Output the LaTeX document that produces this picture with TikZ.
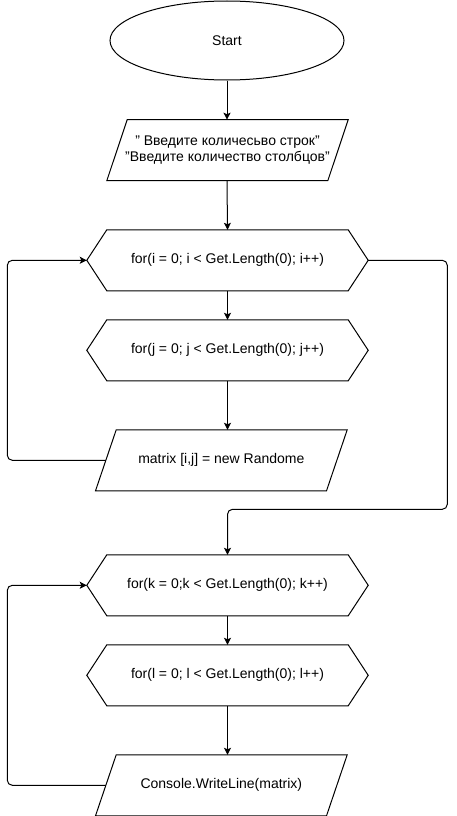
\documentclass[tikz,border=0pt]{standalone}
\usepackage{fontspec}
\setmainfont{Liberation Sans}
\usetikzlibrary{shapes.geometric,arrows.meta,calc}
\newcommand\drawhexbox[1]{\draw ($(#1.north west)+(20,0)$) -- ($(#1.north east)+(-20,0)$) -- (#1.east) -- ($(#1.south east)+(-20,0)$) -- ($(#1.south west)+(20,0)$) -- (#1.west) -- cycle;}
\newcommand\drawparbox[2]{\draw ($(#1.north west)+(#2,0)$) -- (#1.north east) -- ($(#1.south east)+(-#2,0)$) -- (#1.south west) -- cycle;}
\begin{document}
\begin{tikzpicture}[x=1pt,y=-1pt,line width=1pt,
  font=\fontsize{14}{16.7}\selectfont,
  box/.style={draw=none,inner sep=0pt,minimum height=60pt,align=center},
  hexbox/.style={box,minimum width=280.4pt},
  ar/.style={-{Stealth[length=7pt,width=7pt,inset=1.5pt]}},
  link/.style={rounded corners=5pt}]
\useasboundingbox (0,0) rectangle (456,816);
\node[ellipse,draw,minimum width=234pt,minimum height=79pt,inner sep=0pt] (start) at (227,40.5) {Start};
\node[box,minimum width=240.4pt] (in1) at (227.5,150.2) {" Введите количесьво строк"\\"Введите количество столбцов"};
\node[hexbox] (hi) at (227.5,260.3) {for(i = 0; i < Get.Length(0); i++)};
\node[hexbox] (hj) at (227.5,350.3) {for(j = 0; j < Get.Length(0); j++)};
\node[box,minimum width=250.7pt] (mat) at (221.35,460.3) {matrix [i,j] = new Randome};
\node[hexbox] (hk) at (227.5,585.3) {for(k = 0;k < Get.Length(0); k++)};
\node[hexbox] (hl) at (227.5,675.3) {for(l = 0; l < Get.Length(0); l++)};
\node[box,minimum width=250.7pt] (con) at (221.35,785.3) {Console.WriteLine(matrix)};
\drawparbox{in1}{20.4}
\drawhexbox{hi}
\drawhexbox{hj}
\drawparbox{mat}{20.7}
\drawhexbox{hk}
\drawhexbox{hl}
\drawparbox{con}{20.7}
\coordinate (matL) at ($(mat.west)+(10.35,0)$);
\coordinate (conL) at ($(con.west)+(10.35,0)$);
\coordinate (r1) at (447.3,260.3);
\coordinate (r2) at (447.3,509.3);
\coordinate (l1) at (7.3,460.3);
\coordinate (l2) at (7.3,785.3);
\draw[ar] (start.south) -- (start.south |- in1.north);
\draw[ar] (start.south |- in1.south) -- (hi.north);
\draw[ar] (hi.south) -- (hj.north);
\draw[ar] (hj.south) -- (hj.south |- mat.north);
\draw[ar,link] (hi.east) -- (r1) -- (r2) -- (hk.north |- r2) -- (hk.north);
\draw[ar,link] (matL) -- (l1) -- (l1 |- hi.west) -- (hi.west);
\draw[ar] (hk.south) -- (hl.north);
\draw[ar] (hl.south) -- (hl.south |- con.north);
\draw[ar,link] (conL) -- (l2) -- (l2 |- hk.west) -- (hk.west);
\end{tikzpicture}
\end{document}
